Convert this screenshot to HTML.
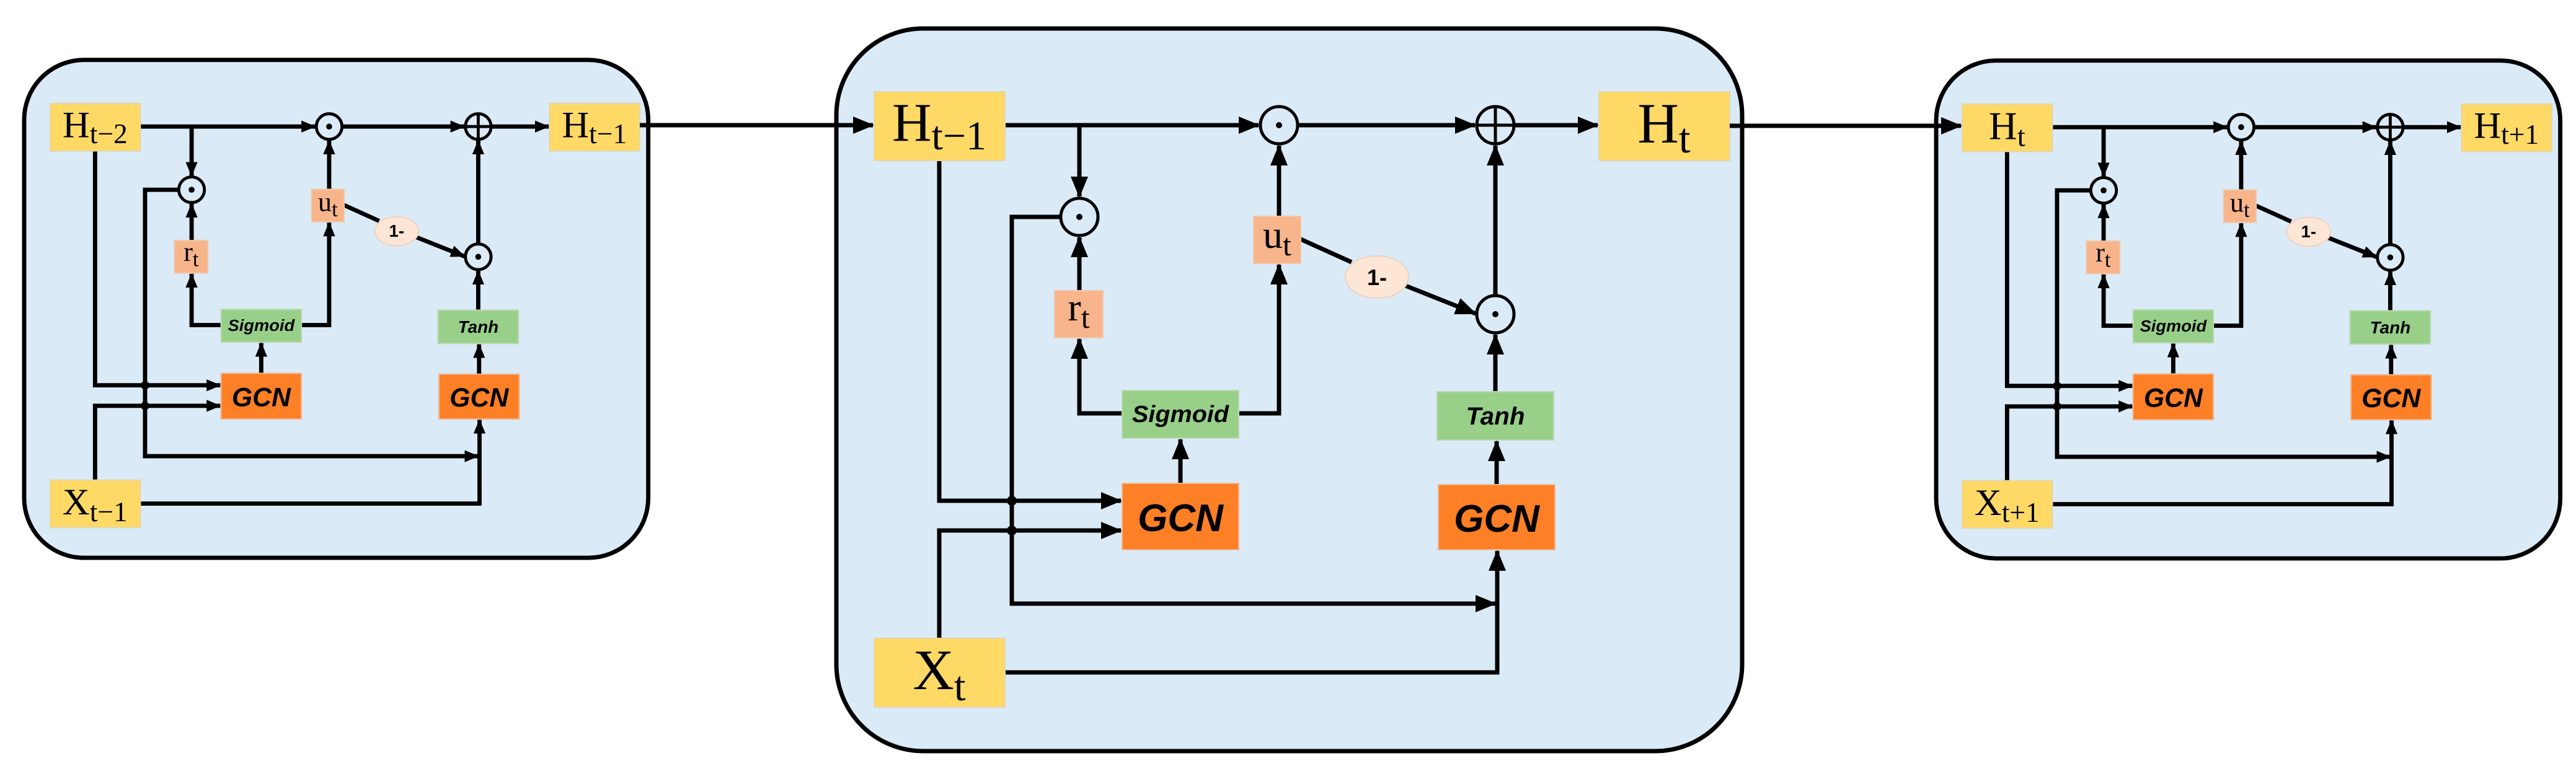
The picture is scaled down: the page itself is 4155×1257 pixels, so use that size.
<!DOCTYPE html>
<html><head><meta charset="utf-8"><style>
html,body{margin:0;padding:0;background:#fff;width:4155px;height:1257px;overflow:hidden}
svg{display:block}
.ln{fill:none;stroke:#000;stroke-linejoin:miter}
.sv{font-family:"Liberation Serif",serif}
.sn{font-family:"Liberation Sans",sans-serif;font-weight:bold;font-style:italic}
</style></head><body>
<svg width="4155" height="1257" viewBox="0 0 4155 1257" xmlns="http://www.w3.org/2000/svg">
<defs>
<marker id="a" markerUnits="userSpaceOnUse" markerWidth="34" markerHeight="28" refX="32" refY="14" orient="auto"><path d="M0,0 L34,14 L0,28z" fill="#000"/></marker>
</defs>

<!-- MIDDLE CELL -->
<g>
<rect x="1349" y="46" width="1461" height="1166" rx="140" fill="#dbeaf7" stroke="#000" stroke-width="7"/>
<g class="ln" stroke-width="7">
<path d="M1621,202 H2030" marker-end="url(#a)"/>
<path d="M2094,202 H2379" marker-end="url(#a)"/>
<path d="M2443,202 H2577" marker-end="url(#a)"/>
<path d="M1741,202 V317" marker-end="url(#a)"/>
<path d="M1710,350 H1632 V974 H2412" marker-end="url(#a)"/>
<path d="M1741,469 V383" marker-end="url(#a)"/>
<path d="M1810,667 H1741 V547" marker-end="url(#a)"/>
<path d="M1998,667 H2063 V427" marker-end="url(#a)"/>
<path d="M2063,349 V235" marker-end="url(#a)"/>
<path d="M1904,780 V709" marker-end="url(#a)"/>
<path d="M1515,259 V808 H1808" marker-end="url(#a)"/>
<path d="M1515,1030 V856 H1808" marker-end="url(#a)"/>
<path d="M1621,1085 H2415 V889" marker-end="url(#a)"/>
<path d="M2414,782 V712" marker-end="url(#a)"/>
<path d="M2412,632 V540" marker-end="url(#a)"/>
<path d="M2412,476 V235" marker-end="url(#a)"/>
<path d="M2098,386 L2180,423"/>
<path d="M2267,461 L2380,506" marker-end="url(#a)"/>
</g>
<circle cx="1632" cy="808" r="8"/><circle cx="1632" cy="856" r="8"/>
<rect x="1410" y="148" width="211" height="111" fill="#ffd966" stroke="#e3d6a8" stroke-width="2"/>
<rect x="2579" y="148" width="211" height="111" fill="#ffd966" stroke="#e3d6a8" stroke-width="2"/>
<rect x="1410" y="1030" width="211" height="111" fill="#ffd966" stroke="#e3d6a8" stroke-width="2"/>
<rect x="1701" y="469" width="78" height="76" fill="#f8b48a" stroke="#f0c8a8" stroke-width="2"/>
<rect x="2022" y="349" width="76" height="76" fill="#f8b48a" stroke="#f0c8a8" stroke-width="2"/>
<rect x="1810" y="630" width="188" height="77" fill="#98d08a" stroke="#bcd8b0" stroke-width="2"/>
<rect x="2318" y="632" width="188" height="78" fill="#98d08a" stroke="#bcd8b0" stroke-width="2"/>
<rect x="1810" y="780" width="188" height="107" fill="#fd7f26" stroke="#f0b890" stroke-width="2"/>
<rect x="2320" y="782" width="188" height="105" fill="#fd7f26" stroke="#f0b890" stroke-width="2"/>
<ellipse cx="2221" cy="447" rx="51" ry="34" fill="#fde6d6" stroke="#ecd2c0" stroke-width="2"/>
<g fill="#dbeaf7" stroke="#000" stroke-width="5">
<circle cx="2063" cy="202" r="30"/><circle cx="2412" cy="202" r="30"/><circle cx="1741" cy="350" r="30"/><circle cx="2412" cy="507" r="30"/>
<path d="M2382,202 H2442 M2412,172 V232" fill="none"/>
</g>
<circle cx="2063" cy="202" r="5"/><circle cx="1741" cy="350" r="5"/><circle cx="2412" cy="507" r="5"/>
<text class="sv" x="1515" y="227" text-anchor="middle" font-size="88">H<tspan font-size="66" dy="14">t−1</tspan></text>
<text class="sv" x="2684" y="230" text-anchor="middle" font-size="92">H<tspan font-size="68" dy="16">t</tspan></text>
<text class="sv" x="1515" y="1112" text-anchor="middle" font-size="92">X<tspan font-size="68" dy="18">t</tspan></text>
<text class="sv" x="1740" y="517" text-anchor="middle" font-size="64">r<tspan font-size="50" dy="12">t</tspan></text>
<text class="sv" x="2060" y="400" text-anchor="middle" font-size="64">u<tspan font-size="50" dy="12">t</tspan></text>
<text class="sn" x="1904" y="681" text-anchor="middle" font-size="38" textLength="156" lengthAdjust="spacingAndGlyphs">Sigmoid</text>
<text class="sn" x="2412" y="685" text-anchor="middle" font-size="40" textLength="95" lengthAdjust="spacingAndGlyphs">Tanh</text>
<text class="sn" x="1904" y="857" text-anchor="middle" font-size="62">GCN</text>
<text class="sn" x="2414" y="858" text-anchor="middle" font-size="62">GCN</text>
<text x="2221" y="460" text-anchor="middle" font-family="Liberation Sans,sans-serif" font-weight="bold" font-size="36">1-</text>
</g>

<!-- LEFT CELL -->
<g transform="translate(81,167) scale(0.689) translate(-1410,-148)">
<rect x="1349" y="46" width="1461" height="1166" rx="140" fill="#dbeaf7" stroke="#000" stroke-width="10"/>
<g class="ln" stroke-width="10">
<path d="M1621,202 H2030" marker-end="url(#a)"/>
<path d="M2094,202 H2379" marker-end="url(#a)"/>
<path d="M2443,202 H2577" marker-end="url(#a)"/>
<path d="M1741,202 V317" marker-end="url(#a)"/>
<path d="M1710,350 H1632 V974 H2412" marker-end="url(#a)"/>
<path d="M1741,469 V383" marker-end="url(#a)"/>
<path d="M1810,667 H1741 V547" marker-end="url(#a)"/>
<path d="M1998,667 H2063 V427" marker-end="url(#a)"/>
<path d="M2063,349 V235" marker-end="url(#a)"/>
<path d="M1904,780 V709" marker-end="url(#a)"/>
<path d="M1515,259 V808 H1808" marker-end="url(#a)"/>
<path d="M1515,1030 V856 H1808" marker-end="url(#a)"/>
<path d="M1621,1085 H2415 V889" marker-end="url(#a)"/>
<path d="M2414,782 V712" marker-end="url(#a)"/>
<path d="M2412,632 V540" marker-end="url(#a)"/>
<path d="M2412,476 V235" marker-end="url(#a)"/>
<path d="M2098,386 L2180,423"/>
<path d="M2267,461 L2380,506" marker-end="url(#a)"/>
</g>
<circle cx="1632" cy="808" r="10"/><circle cx="1632" cy="856" r="10"/>
<rect x="1410" y="148" width="211" height="111" fill="#ffd966" stroke="#e3d6a8" stroke-width="3"/>
<rect x="2579" y="148" width="211" height="111" fill="#ffd966" stroke="#e3d6a8" stroke-width="3"/>
<rect x="1410" y="1030" width="211" height="111" fill="#ffd966" stroke="#e3d6a8" stroke-width="3"/>
<rect x="1701" y="469" width="78" height="76" fill="#f8b48a" stroke="#f0c8a8" stroke-width="3"/>
<rect x="2022" y="349" width="76" height="76" fill="#f8b48a" stroke="#f0c8a8" stroke-width="3"/>
<rect x="1810" y="630" width="188" height="77" fill="#98d08a" stroke="#bcd8b0" stroke-width="3"/>
<rect x="2318" y="632" width="188" height="78" fill="#98d08a" stroke="#bcd8b0" stroke-width="3"/>
<rect x="1810" y="780" width="188" height="107" fill="#fd7f26" stroke="#f0b890" stroke-width="3"/>
<rect x="2320" y="782" width="188" height="105" fill="#fd7f26" stroke="#f0b890" stroke-width="3"/>
<ellipse cx="2221" cy="447" rx="51" ry="34" fill="#fde6d6" stroke="#ecd2c0" stroke-width="3"/>
<g fill="#dbeaf7" stroke="#000" stroke-width="7">
<circle cx="2063" cy="202" r="30"/><circle cx="2412" cy="202" r="30"/><circle cx="1741" cy="350" r="30"/><circle cx="2412" cy="507" r="30"/>
<path d="M2382,202 H2442 M2412,172 V232" fill="none"/>
</g>
<circle cx="2063" cy="202" r="7"/><circle cx="1741" cy="350" r="7"/><circle cx="2412" cy="507" r="7"/>
<text class="sv" x="1515" y="227" text-anchor="middle" font-size="88">H<tspan font-size="66" dy="14">t−2</tspan></text>
<text class="sv" x="2684" y="227" text-anchor="middle" font-size="88">H<tspan font-size="66" dy="14">t−1</tspan></text>
<text class="sv" x="1515" y="1110" text-anchor="middle" font-size="88">X<tspan font-size="66" dy="16">t−1</tspan></text>
<text class="sv" x="1740" y="517" text-anchor="middle" font-size="64">r<tspan font-size="50" dy="12">t</tspan></text>
<text class="sv" x="2060" y="400" text-anchor="middle" font-size="64">u<tspan font-size="50" dy="12">t</tspan></text>
<text class="sn" x="1904" y="681" text-anchor="middle" font-size="38" textLength="156" lengthAdjust="spacingAndGlyphs">Sigmoid</text>
<text class="sn" x="2412" y="685" text-anchor="middle" font-size="40" textLength="95" lengthAdjust="spacingAndGlyphs">Tanh</text>
<text class="sn" x="1904" y="857" text-anchor="middle" font-size="62">GCN</text>
<text class="sn" x="2414" y="858" text-anchor="middle" font-size="62">GCN</text>
<text x="2221" y="460" text-anchor="middle" font-family="Liberation Sans,sans-serif" font-weight="bold" font-size="40">1-</text>
</g>

<!-- RIGHT CELL -->
<g transform="translate(3165,168) scale(0.689) translate(-1410,-148)">
<rect x="1349" y="46" width="1461" height="1166" rx="140" fill="#dbeaf7" stroke="#000" stroke-width="10"/>
<g class="ln" stroke-width="10">
<path d="M1621,202 H2030" marker-end="url(#a)"/>
<path d="M2094,202 H2379" marker-end="url(#a)"/>
<path d="M2443,202 H2577" marker-end="url(#a)"/>
<path d="M1741,202 V317" marker-end="url(#a)"/>
<path d="M1710,350 H1632 V974 H2412" marker-end="url(#a)"/>
<path d="M1741,469 V383" marker-end="url(#a)"/>
<path d="M1810,667 H1741 V547" marker-end="url(#a)"/>
<path d="M1998,667 H2063 V427" marker-end="url(#a)"/>
<path d="M2063,349 V235" marker-end="url(#a)"/>
<path d="M1904,780 V709" marker-end="url(#a)"/>
<path d="M1515,259 V808 H1808" marker-end="url(#a)"/>
<path d="M1515,1030 V856 H1808" marker-end="url(#a)"/>
<path d="M1621,1085 H2415 V889" marker-end="url(#a)"/>
<path d="M2414,782 V712" marker-end="url(#a)"/>
<path d="M2412,632 V540" marker-end="url(#a)"/>
<path d="M2412,476 V235" marker-end="url(#a)"/>
<path d="M2098,386 L2180,423"/>
<path d="M2267,461 L2380,506" marker-end="url(#a)"/>
</g>
<circle cx="1632" cy="808" r="10"/><circle cx="1632" cy="856" r="10"/>
<rect x="1410" y="148" width="211" height="111" fill="#ffd966" stroke="#e3d6a8" stroke-width="3"/>
<rect x="2579" y="148" width="211" height="111" fill="#ffd966" stroke="#e3d6a8" stroke-width="3"/>
<rect x="1410" y="1030" width="211" height="111" fill="#ffd966" stroke="#e3d6a8" stroke-width="3"/>
<rect x="1701" y="469" width="78" height="76" fill="#f8b48a" stroke="#f0c8a8" stroke-width="3"/>
<rect x="2022" y="349" width="76" height="76" fill="#f8b48a" stroke="#f0c8a8" stroke-width="3"/>
<rect x="1810" y="630" width="188" height="77" fill="#98d08a" stroke="#bcd8b0" stroke-width="3"/>
<rect x="2318" y="632" width="188" height="78" fill="#98d08a" stroke="#bcd8b0" stroke-width="3"/>
<rect x="1810" y="780" width="188" height="107" fill="#fd7f26" stroke="#f0b890" stroke-width="3"/>
<rect x="2320" y="782" width="188" height="105" fill="#fd7f26" stroke="#f0b890" stroke-width="3"/>
<ellipse cx="2221" cy="447" rx="51" ry="34" fill="#fde6d6" stroke="#ecd2c0" stroke-width="3"/>
<g fill="#dbeaf7" stroke="#000" stroke-width="7">
<circle cx="2063" cy="202" r="30"/><circle cx="2412" cy="202" r="30"/><circle cx="1741" cy="350" r="30"/><circle cx="2412" cy="507" r="30"/>
<path d="M2382,202 H2442 M2412,172 V232" fill="none"/>
</g>
<circle cx="2063" cy="202" r="7"/><circle cx="1741" cy="350" r="7"/><circle cx="2412" cy="507" r="7"/>
<text class="sv" x="1515" y="230" text-anchor="middle" font-size="92">H<tspan font-size="68" dy="16">t</tspan></text>
<text class="sv" x="2684" y="227" text-anchor="middle" font-size="88">H<tspan font-size="66" dy="14">t+1</tspan></text>
<text class="sv" x="1515" y="1110" text-anchor="middle" font-size="88">X<tspan font-size="66" dy="16">t+1</tspan></text>
<text class="sv" x="1740" y="517" text-anchor="middle" font-size="64">r<tspan font-size="50" dy="12">t</tspan></text>
<text class="sv" x="2060" y="400" text-anchor="middle" font-size="64">u<tspan font-size="50" dy="12">t</tspan></text>
<text class="sn" x="1904" y="681" text-anchor="middle" font-size="38" textLength="156" lengthAdjust="spacingAndGlyphs">Sigmoid</text>
<text class="sn" x="2412" y="685" text-anchor="middle" font-size="40" textLength="95" lengthAdjust="spacingAndGlyphs">Tanh</text>
<text class="sn" x="1904" y="857" text-anchor="middle" font-size="62">GCN</text>
<text class="sn" x="2414" y="858" text-anchor="middle" font-size="62">GCN</text>
<text x="2221" y="460" text-anchor="middle" font-family="Liberation Sans,sans-serif" font-weight="bold" font-size="40">1-</text>
</g>

<!-- inter-panel connectors (drawn last so arrowheads are visible) -->
<path class="ln" stroke-width="7" d="M1032,202 H1408" marker-end="url(#a)"/>
<path class="ln" stroke-width="7" d="M2790,203 H3163" marker-end="url(#a)"/>
</svg>
</body></html>
